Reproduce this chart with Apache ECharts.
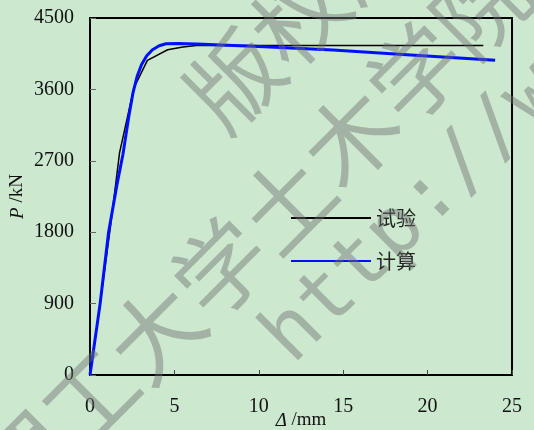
<!DOCTYPE html>
<html>
<head>
<meta charset="utf-8">
<script src="https://cdn.jsdelivr.net/npm/echarts@6/dist/echarts.min.js"></script>
<style>
html,body{margin:0;padding:0;background:#cce8cf;}
#c{width:534px;height:430px;}
</style>
</head>
<body>
<div id="c"></div>
<script>
// Data (Δ in mm, P in kN)
var legendNames = ['试验', '计算'];
var testX = [0, 0.6, 1.2, 1.75, 2.6, 3.4, 4.6, 5.5, 6.3, 23.3];
var testP = [0, 900, 1850, 2800, 3620, 3965, 4100, 4135, 4153, 4153];
var calcX = [0, 0.6, 1.1, 1.6, 1.95, 2.3, 2.55, 2.8, 3.05, 3.35, 3.7, 4.1, 4.5, 5.2, 6.3, 10.0, 14.4, 19.0, 24.0];
var calcP = [0, 900, 1800, 2400, 2780, 3260, 3560, 3770, 3910, 4020, 4100, 4150, 4175, 4178, 4172, 4140, 4098, 4035, 3968];
var xTicks = [0, 5, 10, 15, 20, 25];
var yTicks = [0, 900, 1800, 2700, 3600, 4500];

function pairs(xs, ys) { return xs.map(function (x, i) { return [x, ys[i]]; }); }

var chart = echarts.init(document.getElementById('c'), null, {renderer: 'canvas'});
var serif = '"Liberation Serif", "Times New Roman", serif';
var cjk = '"Noto Sans CJK SC", sans-serif';
var wmFill = 'rgba(110,112,110,0.45)';

chart.setOption({
  backgroundColor: '#cce8cf',
  animation: false,
  grid: {left: 90, right: 22, top: 18, bottom: 55, outerBoundsMode: 'none', containLabel: false,
         show: true, borderColor: '#000', borderWidth: 2, backgroundColor: 'transparent'},
  legend: {
    data: legendNames,
    orient: 'vertical',
    left: 285,
    top: 203,
    itemWidth: 80,
    itemHeight: 20,
    itemGap: 23,
    itemStyle: {opacity: 0},
    textStyle: {fontSize: 20, color: '#222', fontFamily: cjk}
  },
  xAxis: {
    type: 'value', min: xTicks[0], max: xTicks[xTicks.length - 1], interval: 5,
    name: '{i|Δ} /mm', nameLocation: 'middle', nameGap: 36, nameMoveOverlap: false,
    nameTextStyle: {fontSize: 19, color: '#111', fontFamily: serif, rich: {i: {fontStyle: 'italic', fontSize: 19, fontFamily: serif, color: '#111'}}},
    axisLine: {lineStyle: {color: '#000', width: 2}},
    axisTick: {inside: true, length: 5, lineStyle: {color: '#444', width: 1}},
    axisLabel: {margin: 22, fontSize: 20, color: '#111', fontFamily: serif, formatter: function (v) { return String(v); }},
    splitLine: {show: false}
  },
  yAxis: {
    type: 'value', min: yTicks[0], max: yTicks[yTicks.length - 1], interval: 900,
    name: '{i|P} /kN', nameLocation: 'middle', nameGap: 63, nameMoveOverlap: false,
    nameTextStyle: {fontSize: 19, color: '#111', fontFamily: serif, rich: {i: {fontStyle: 'italic', fontSize: 19, fontFamily: serif, color: '#111'}}},
    axisLine: {lineStyle: {color: '#000', width: 2}},
    axisTick: {inside: true, length: 6, lineStyle: {color: '#666', width: 1}},
    axisLabel: {margin: 16, fontSize: 20, color: '#111', fontFamily: serif, formatter: function (v) { return String(v); }},
    splitLine: {show: false}
  },
  series: [
    {name: legendNames[0], type: 'line', data: pairs(testX, testP), symbol: 'none', lineStyle: {color: '#000', width: 1.5}, itemStyle: {color: '#000'}, z: 2},
    {name: legendNames[1], type: 'line', data: pairs(calcX, calcP), symbol: 'none', lineStyle: {color: '#0010ff', width: 3, join: 'round'}, itemStyle: {color: '#0010ff'}, z: 3}
  ],
  graphic: [
    {type: 'text', x: 253, y: 235, rotation: Math.PI / 4, z: 100, silent: true,
     style: {text: '理工大学土木学院', fontSize: 92, fontFamily: cjk, fill: wmFill, textAlign: 'center', textVerticalAlign: 'middle'}},
    {type: 'text', x: 332, y: -17, rotation: Math.PI / 4, z: 100, silent: true,
     style: {text: '版权所有', fontSize: 92, fontFamily: cjk, fill: wmFill, textAlign: 'center', textVerticalAlign: 'middle'}},
    {type: 'text', x: 278, y: 351, rotation: Math.PI / 4, z: 100, silent: true,
     style: {text: 'http://w', fontSize: 80, fontFamily: '"DejaVu Sans Mono", monospace', fill: wmFill, textAlign: 'left', textVerticalAlign: 'middle'}}
  ]
});
</script>
</body>
</html>
